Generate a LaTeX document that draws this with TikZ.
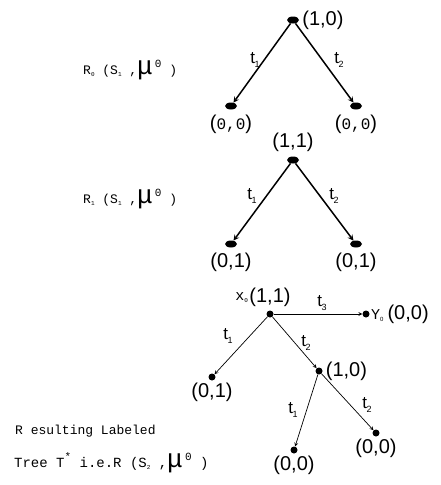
\documentclass[tikz,border=0pt]{standalone}
\usepackage{fontspec}
\setmainfont{Liberation Sans}
\newfontfamily\cour{Liberation Mono}
\usetikzlibrary{arrows,positioning,shapes.geometric}

\newcommand{\sbs}[1]{\raisebox{-2pt}{\fontsize{6}{6}\selectfont #1}}
\newcommand{\sps}[1]{\raisebox{7pt}{\fontsize{11}{11}\selectfont #1}}
\newcommand{\tlab}[1]{t\kern-0.5pt\raisebox{-4pt}{\fontsize{9}{9}\selectfont #1}}
\newcommand{\bigmu}{{\fontsize{26}{26}\selectfont μ}}

\begin{document}
\begin{tikzpicture}[x=1pt, y=-1pt,
  dot/.style={ellipse, fill, inner sep=0pt, minimum width=12pt, minimum height=7pt},
  sdot/.style={circle, fill, inner sep=0pt, minimum size=7pt},
  tup/.style={font=\fontsize{20}{22}\selectfont, inner sep=0pt},
  elab/.style={font=\fontsize{17}{19}\selectfont, inner sep=0pt},
  mono/.style={font=\cour\fontsize{13}{15}\selectfont, inner sep=0pt, anchor=west},
  thickarr/.style={->, >=stealth, line width=1.5pt},
  thinarr/.style={->, >=stealth, line width=0.7pt}
]
\useasboundingbox (0,0) rectangle (441,485);

% first tree
\node[dot] (r0) at (293,20) {};
\node[dot] (r0l) at (231,106) {};
\node[dot] (r0r) at (356,106) {};
\node[tup, right=3pt of r0] (r0lab) {(1,0)};
\node[tup, below=5pt of r0l] (r0llab) {({\cour\fontsize{16}{18}\selectfont 0,0})};
\node[tup, below=5pt of r0r] (r0rlab) {({\cour\fontsize{16}{18}\selectfont 0,0})};
\node[elab] (r0t1) at (255,60) {\tlab{1}};
\node[elab] (r0t2) at (339,60) {\tlab{2}};
\node[mono] (r0name) at (83,70) {R\sbs{0} (S\sbs{1} ,\bigmu\,\sps{0} )};
\draw[thickarr] (r0) -- (r0l);
\draw[thickarr] (r0) -- (r0r);

% second tree
\node[dot] (r1) at (293,160) {};
\node[dot] (r1l) at (231,244) {};
\node[dot] (r1r) at (356,244) {};
\node[tup, above=4pt of r1] (r1lab) {(1,1)};
\node[tup, below=5pt of r1l] (r1llab) {(0,1)};
\node[tup, below=5pt of r1r] (r1rlab) {(0,1)};
\node[elab] (r1t1) at (252,196) {\tlab{1}};
\node[elab] (r1t2) at (334,196) {\tlab{2}};
\node[mono] (r1name) at (83,199) {R\sbs{1} (S\sbs{1} ,\bigmu\,\sps{0} )};
\draw[thickarr] (r1) -- (r1l);
\draw[thickarr] (r1) -- (r1r);

% resulting tree
\node[sdot] (x0) at (270,314) {};
\node[sdot] (y0) at (366,314) {};
\node[sdot] (a) at (212,377) {};
\node[sdot] (b) at (319,371) {};
\node[sdot] (bl) at (294,450) {};
\node[sdot] (br) at (376,433) {};
\node[tup, above=3pt of x0] (x0lab) {(1,1)};
\node[font=\cour\fontsize{15}{17}\selectfont, inner sep=0pt, left=1pt of x0lab] (x0name) {x\sbs{0}};
\node[tup, anchor=west] (y0lab) at (371,314) {{\cour\fontsize{15}{17}\selectfont Y}\sbs{0}\hspace{4pt}(0,0)};
\node[tup, below=2pt of a] (alab) {(0,1)};
\node[tup, right=3pt of b] (blab) {(1,0)};
\node[tup, below=2pt of bl] (bllab) {(0,0)};
\node[tup, below=2pt of br] (brlab) {(0,0)};
\node[elab] (xt1) at (228,336) {\tlab{1}};
\node[elab] (xt2) at (306,343) {\tlab{2}};
\node[elab] (xt3) at (322,303) {\tlab{3}};
\node[elab] (bt1) at (293,410) {\tlab{1}};
\node[elab] (bt2) at (367,405) {\tlab{2}};
\draw[thinarr] (x0) -- (y0);
\draw[thinarr] (x0) -- (a);
\draw[thinarr] (x0) -- (b);
\draw[thinarr] (b) -- (bl);
\draw[thinarr] (b) -- (br);
\node[mono] (res1) at (15,431) {R esulting Labeled};
\node[mono, font=\cour\fontsize{14}{16}\selectfont] (res2) at (14,463) {Tree T\sps{*}\ i.e.R (S\sbs{2} ,\bigmu\,\sps{0}\ )};
\end{tikzpicture}
\end{document}
